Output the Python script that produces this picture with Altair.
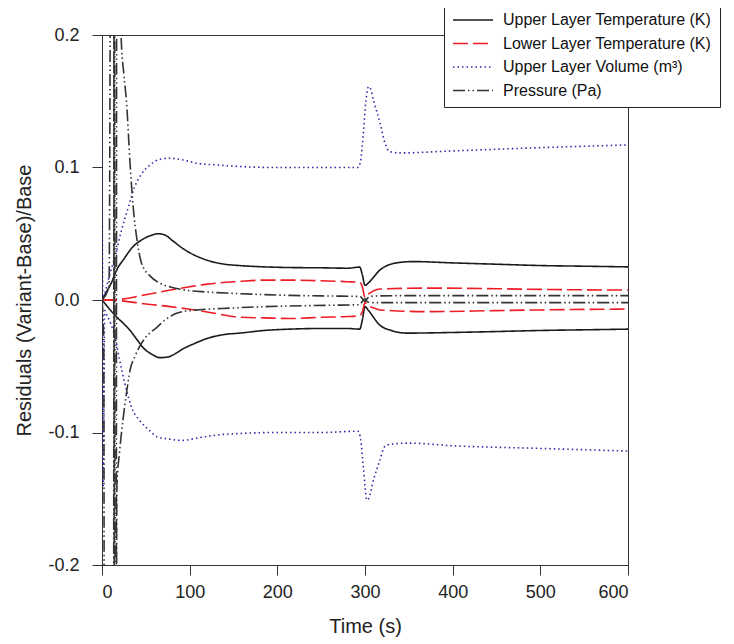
import altair as alt
import pandas as pd

SERIES = [
    "Upper Layer Temperature (K)",
    "\u00a0Lower Layer Temperature (K)",
    "Upper Layer Volume (m³)",
    "\u00a0\u00a0\u00a0Pressure (Pa)",
]

# Upper Layer Temperature (K)
ut_hi_t = [0, 5, 10, 17, 25, 35, 47, 57, 64, 72, 80, 92, 105, 120, 140, 157, 185, 214, 250, 280, 294, 297, 300, 304, 317, 336, 355, 400, 450, 500, 550, 600]
ut_hi_v = [0, 0.006, 0.012, 0.023, 0.031, 0.040, 0.046, 0.049, 0.050, 0.049, 0.045, 0.039, 0.034, 0.030, 0.027, 0.026, 0.025, 0.0245, 0.0243, 0.024, 0.0248, 0.019, 0.011, 0.013, 0.0226, 0.028, 0.029, 0.028, 0.027, 0.026, 0.0255, 0.025]
ut_lo_t = [0, 5, 10, 17, 25, 32, 40, 47, 57, 66, 75, 85, 92, 105, 120, 140, 157, 185, 214, 250, 280, 294, 297, 300, 304, 317, 330, 348, 400, 450, 500, 550, 600]
ut_lo_v = [0, -0.004, -0.008, -0.013, -0.018, -0.023, -0.030, -0.036, -0.041, -0.0435, -0.043, -0.040, -0.037, -0.033, -0.029, -0.026, -0.025, -0.023, -0.022, -0.0215, -0.0215, -0.022, -0.015, -0.005, -0.008, -0.019, -0.023, -0.025, -0.0245, -0.0238, -0.023, -0.0225, -0.022]

# Lower Layer Temperature (K)
lt_t = [0, 20, 50, 78, 100, 120, 157, 185, 214, 250, 280, 294, 297, 300, 303, 310, 317, 374, 450, 500, 600]
lt_hi_v = [0, 0.0005, 0.004, 0.0075, 0.010, 0.012, 0.014, 0.015, 0.015, 0.0145, 0.0138, 0.0133, 0.010, 0.002, 0.004, 0.007, 0.0083, 0.009, 0.0085, 0.008, 0.0075]
lt_lo_v = [0, -0.0005, -0.003, -0.005, -0.007, -0.009, -0.013, -0.0135, -0.014, -0.013, -0.0125, -0.0118, -0.009, -0.002, -0.004, -0.006, -0.0075, -0.0088, -0.008, -0.0075, -0.0068]

# Upper Layer Volume (m3)
uv_hi_t = [0, 1, 3, 6, 10, 15, 22, 30, 37, 45, 55, 65, 77, 90, 110, 130, 150, 200, 250, 292, 295, 298, 301, 304, 306, 310, 317, 323, 328, 340, 400, 500, 600]
uv_hi_v = [0.12, 0.0, 0.004, 0.012, 0.022, 0.033, 0.052, 0.070, 0.085, 0.095, 0.102, 0.106, 0.107, 0.106, 0.103, 0.102, 0.101, 0.100, 0.100, 0.100, 0.105, 0.125, 0.150, 0.161, 0.160, 0.150, 0.134, 0.118, 0.112, 0.111, 0.1125, 0.115, 0.117]
uv_lo_t = [0, 1.5, 3, 6, 10, 15, 20, 26, 35, 43, 55, 62, 77, 90, 110, 130, 150, 200, 250, 292, 295, 298, 300, 302, 304, 310, 317, 322, 328, 350, 400, 500, 600]
uv_lo_v = [0, -0.14, -0.008, -0.012, -0.018, -0.028, -0.045, -0.063, -0.083, -0.091, -0.099, -0.103, -0.105, -0.106, -0.104, -0.102, -0.101, -0.100, -0.100, -0.099, -0.105, -0.125, -0.140, -0.151, -0.150, -0.135, -0.121, -0.111, -0.109, -0.108, -0.110, -0.112, -0.114]

# Pressure (Pa)
pr_hi_t = [0, 8, 11, 13, 14.5, 16, 17, 19.5, 21.7, 25, 28, 32, 35.6, 40, 45, 55, 65, 77, 90, 120, 150, 214, 260, 294, 297, 300, 303, 310, 350, 600]
pr_hi_v = [0, 0.01, 0.5, 0.5, -0.5, -0.5, 0.5, 0.5, 0.2, 0.17, 0.149, 0.103, 0.070, 0.045, 0.028, 0.018, 0.013, 0.010, 0.008, 0.006, 0.005, 0.0035, 0.003, 0.0027, 0.001, -0.001, 0.0015, 0.003, 0.0033, 0.0033]
pr_lo_t = [0, 2, 3, 13, 14, 15.5, 17, 20, 24, 28, 32, 38, 43, 50, 62, 72, 85, 100, 150, 214, 260, 294, 297, 300, 303, 310, 350, 600]
pr_lo_v = [0, -0.03, -0.5, -0.5, 0.5, -0.5, -0.14, -0.115, -0.09, -0.07, -0.053, -0.042, -0.035, -0.028, -0.021, -0.015, -0.010, -0.008, -0.006, -0.0045, -0.004, -0.0035, -0.001, 0.001, -0.0015, -0.002, -0.002, -0.002]

x_ticks = [0, 100, 200, 300, 400, 500, 600]
y_ticks = [-0.2, -0.1, 0.0, 0.1, 0.2]

rows = []
def add(series, branch, ts, vs):
    for i, (t, v) in enumerate(zip(ts, vs)):
        rows.append({"series": series, "key": series + branch, "t": t, "v": v, "i": i})

add(SERIES[0], "hi", ut_hi_t, ut_hi_v)
add(SERIES[0], "lo", ut_lo_t, ut_lo_v)
add(SERIES[1], "hi", lt_t, lt_hi_v)
add(SERIES[1], "lo", lt_t, lt_lo_v)
add(SERIES[2], "hi", uv_hi_t, uv_hi_v)
add(SERIES[2], "lo", uv_lo_t, uv_lo_v)
add(SERIES[3], "hi", pr_hi_t, pr_hi_v)
add(SERIES[3], "lo", pr_lo_t, pr_lo_v)
df = pd.DataFrame(rows)

FONT = "Liberation Sans"

legend = alt.Legend(
    orient="none", legendX=342, legendY=-31, title=None,
    symbolType="M-4,0H4", symbolSize=100, symbolStrokeWidth=1.6,
    labelFont=FONT, labelFontSize=16, labelColor="#111", labelOffset=22,
    labelLimit=400,
    rowPadding=7.5, padding=8, strokeColor="#222", fillColor="white",
    symbolOffset=13,
)

chart = alt.Chart(df).mark_line(clip=True, strokeWidth=1.6, interpolate="monotone").encode(
    x=alt.X("t:Q", scale=alt.Scale(domain=[0, 600], nice=False),
            axis=alt.Axis(values=x_ticks, title="Time (s)", format="d")),
    y=alt.Y("v:Q", scale=alt.Scale(domain=[-0.2, 0.2], nice=False),
            axis=alt.Axis(values=y_ticks, title="Residuals (Variant-Base)/Base", format=".1f",
                          labelExpr="replace(datum.label, '\u2212', '-')")),
    color=alt.Color("series:N", scale=alt.Scale(domain=SERIES, range=["#1a1a1a", "#ee1c24", "#2b2ba8", "#333333"]), legend=legend),
    strokeDash=alt.StrokeDash("series:N", scale=alt.Scale(domain=SERIES, range=[[1, 0], [15, 5], [1.5, 3], [12, 3, 1.5, 3, 1.5, 3]]), legend=legend),
    detail="key:N",
    order="i:Q",
).properties(
    width=526, height=530,
    autosize=alt.AutoSizeParams(type="none"),
    padding={"left": 94, "top": 27, "right": 98, "bottom": 72},
).configure_view(
    stroke="#333", strokeWidth=1
).configure_axis(
    grid=False, domainColor="#333", tickColor="#333", tickSize=10,
    labelFont=FONT, labelFontSize=18, labelColor="#222",
    titleFont=FONT, titleFontSize=20, titleFontWeight="normal", titleColor="#222",
).configure_axisX(
    labelPadding=8, titlePadding=15
).configure_axisY(
    labelPadding=13, titlePadding=13
)

chart.save("out.html", embed_options={"renderer": "svg", "actions": False})
